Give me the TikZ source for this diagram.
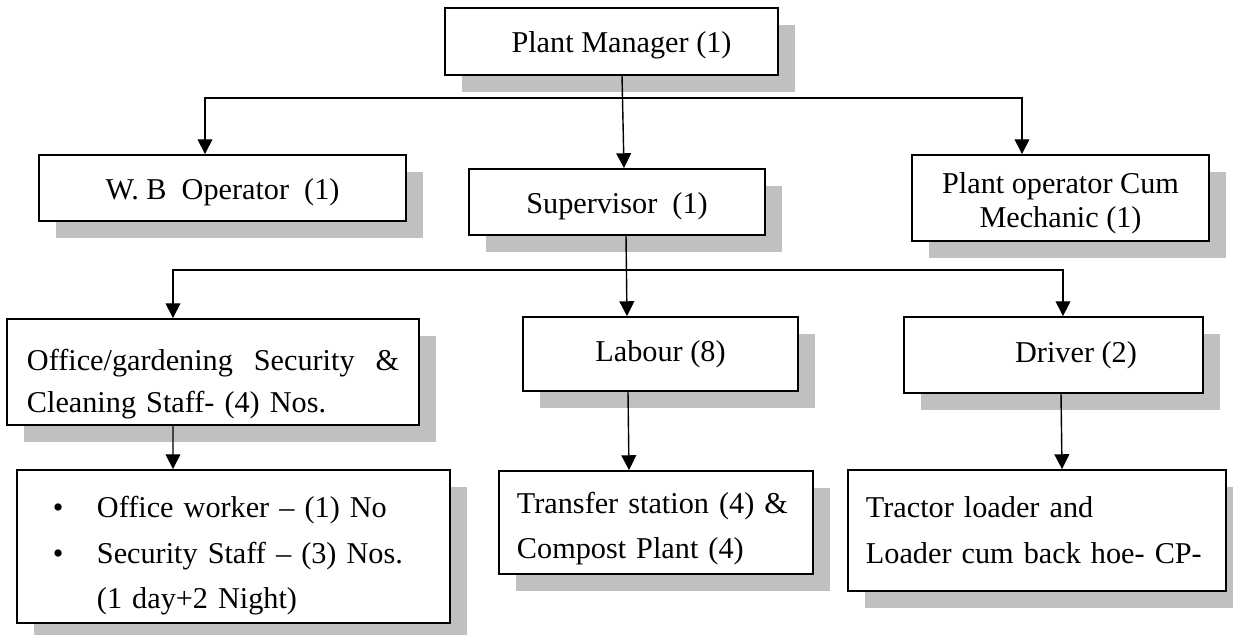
\documentclass[tikz,border=0pt]{standalone}
\usepackage{fontspec}
\setmainfont{Liberation Serif}
\usetikzlibrary{arrows.meta,shadows}
\definecolor{shadowgray}{RGB}{192,192,192}

\begin{document}
\begin{tikzpicture}[x=0.025cm, y=-0.025cm,
    orgbox/.style={draw, line width=1.3pt, fill=white, inner sep=0pt, align=center,
      font=\fontsize{21.5}{24}\selectfont,
      drop shadow={shadow xshift=0.425cm, shadow yshift=-0.425cm, fill=shadowgray, opacity=1}},
    oneline/.style={text height=0.7cm, text depth=0.15cm},
    arr/.style={-{Triangle[width=0.37cm,length=0.37cm]}, line width=1pt}]
  \useasboundingbox (0,0) rectangle (1233,635);
  % top
  \node[orgbox, oneline, minimum width=8.325cm, minimum height=1.675cm] (pm) at (611.5,41.5) {\hspace*{0.5cm}Plant Manager (1)};
  % second row
  \node[orgbox, oneline, minimum width=9.175cm, minimum height=1.65cm] (wb) at (222.5,188) {W. B\ \ Operator\ \ (1)};
  \node[orgbox, oneline, minimum width=7.4cm, minimum height=1.65cm] (sup) at (617,202) {Supervisor\ \ (1)};
  \node[orgbox, minimum width=7.425cm, minimum height=2.15cm] (plop) at (1060.5,198)
    {\rule{0pt}{0.775cm}Plant operator Cum\\Mechanic (1)};
  % third row
  \node[orgbox, font=\fontsize{21.5}{29.9}\selectfont, align=left, text width=9.3cm, inner xsep=0.5cm,
    minimum width=10.3cm, minimum height=2.65cm, text height=1.115cm, text depth=1.215cm] (off) at (213,372)
    {Office/gardening\hfill Security\hfill \&\\Cleaning Staff- (4) Nos.};
  \node[orgbox, minimum width=6.875cm, minimum height=1.85cm] (lab) at (660.5,354) {Labour (8)};
  \node[orgbox, minimum width=7.475cm, minimum height=1.9cm] (drv) at (1053.5,355) {\hspace*{1.125cm}Driver (2)};
  % bottom row
  \node[orgbox, font=\fontsize{21.5}{32.3}\selectfont, align=left, text width=9.025cm, inner xsep=0.9cm,
    minimum width=10.825cm, minimum height=3.825cm, text height=0.99cm, text depth=2.415cm] (bul) at (233.5,546.5)
    {\makebox[1.1cm][l]{\textbullet}Office worker – (1) No\\
     \makebox[1.1cm][l]{\textbullet}Security Staff – (3) Nos.\\
     \hspace*{1.1cm}(1 day+2 Night)};
  \node[orgbox, font=\fontsize{21.5}{32.7}\selectfont, align=left, text width=6.95cm, inner xsep=0.45cm,
    minimum width=7.85cm, minimum height=2.575cm, text height=0.84cm, text depth=1.315cm] (trn) at (656,522.5)
    {Transfer station (4) \&\\Compost Plant (4)};
  \node[orgbox, font=\fontsize{21.5}{32.7}\selectfont, align=left, text width=8.55cm, inner xsep=0.45cm,
    minimum width=9.45cm, minimum height=3.025cm] (trc) at (1037,530.5)
    {Tractor loader and\\Loader cum back hoe- CP-};
  % first level lines
  \coordinate (bus1) at (622,98);
  \draw[arr] ([xshift=0.2625cm]pm.south) -- ([xshift=0.175cm]sup.north);
  \draw[arr] (bus1) -| ([xshift=-0.4375cm]wb.north);
  \draw[arr] (bus1) -| ([xshift=-0.9625cm]plop.north);
  % second level lines
  \coordinate (bus2) at (626,270);
  \draw[arr] ([xshift=0.225cm]sup.south) -- ([xshift=-0.8375cm]lab.north);
  \draw[arr] (bus2) -| ([xshift=-1cm]off.north);
  \draw[arr] (bus2) -| ([xshift=0.2375cm]drv.north);
  % third level lines
  \draw[arr] ([xshift=-1cm]off.south) -- ([xshift=-1.5125cm]bul.north);
  \draw[arr] ([xshift=-0.8125cm]lab.south) -- ([xshift=-0.675cm]trn.north);
  \draw[arr] ([xshift=0.1875cm]drv.south) -- ([xshift=0.625cm]trc.north);
\end{tikzpicture}
\end{document}
